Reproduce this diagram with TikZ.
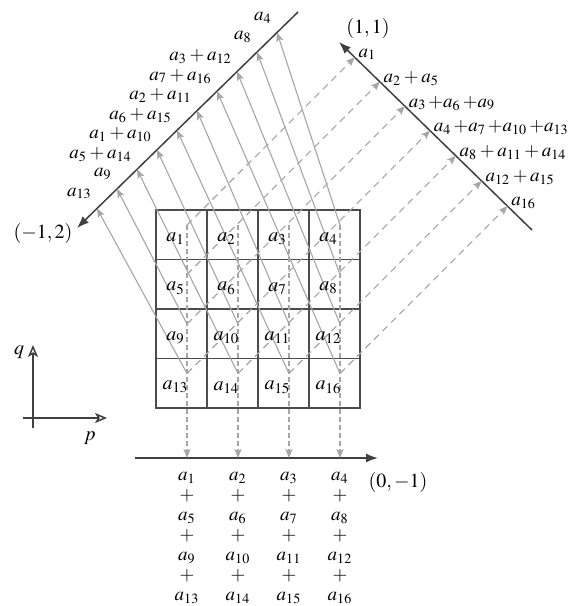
\documentclass[tikz,border=0pt]{standalone}
\usepackage{mathptmx}
\usetikzlibrary{positioning,calc,arrows.meta}
\tikzset{
  cell/.style={draw=black!70, line width=0.9pt, minimum width=25.5pt, minimum height=24.75pt, inner sep=0pt},
  celltext/.style={font=\fontsize{10}{12}\selectfont, inner sep=0pt},
  axisline/.style={draw=black!75, line width=0.75pt, -{Latex[length=6pt,width=4.5pt]}},
  refaxis/.style={draw=black!75, line width=0.75pt, -{Stealth[open,length=6pt,width=5pt,inset=1.5pt]}},
  projline/.style={draw=black!35, line width=0.55pt, -{Stealth[length=4.5pt,width=3.6pt,inset=1pt]}},
  projdash/.style={projline, dash pattern=on 3.5pt off 2.5pt},
  vdash/.style={projline, dash pattern=on 2.5pt off 1.5pt},
  binlabel/.style={font=\fontsize{9.5}{11}\selectfont, inner sep=1pt},
  sumcol/.style={font=\fontsize{9.5}{10}\selectfont, align=center, inner sep=1pt},
  axislabel/.style={font=\fontsize{10}{12}\selectfont, inner sep=1pt}
}

\begin{document}
\begin{tikzpicture}[x=0.5pt,y=-0.5pt]
  \useasboundingbox (0,0) rectangle (574,606);

  \foreach \l in {0,...,3}
    \foreach \k in {0,...,3} {
      \pgfmathtruncatemacro\n{4*\l+\k+1}
      \node[cell] (c\n) at ({181.5+51*\k},{234.75+49.5*\l}) {};
      \coordinate (s\n) at ($(c\n.center)+(5.5,-9.75)$);
      \coordinate (e\n) at ($(s\n)+(10,-10)$);
    }

  \coordinate (la) at (77,228);
  \coordinate (lb) at (298,12);
  \coordinate (ra) at (339,42);
  \coordinate (rb) at (532,230);
  \coordinate (ba) at (135,458);
  \coordinate (bb) at (378,458);
  \draw[axisline] (lb) -- (la);
  \draw[axisline] (rb) -- (ra);
  \draw[axisline] (ba) -- (bb);

  \foreach \s/\lab [count=\i] in {13/{a_{13}}, 9/{a_9}, 14/{a_5+a_{14}}, 10/{a_1+a_{10}}, 15/{a_6+a_{15}},
      11/{a_2+a_{11}}, 16/{a_7+a_{16}}, 12/{a_3+a_{12}}, 8/{a_8}, 4/{a_4}} {
    \coordinate (u\i) at ($(la)!{0.0905*\i}!(lb)$);
    \draw[projline] (s\s) -- (u\i);
    \node[binlabel, anchor=east, xshift=-1.5pt, yshift=7.5pt] (ul\i) at (u\i) {$\lab$};
  }

  \foreach \s/\lab [count=\i] in {1/{a_1}, 5/{a_2+a_5}, 9/{a_3\,{+}a_6\,{+}a_9}, 13/{a_4\,{+}a_7\,{+}a_{10}\,{+}a_{13}},
      14/{a_8+a_{11}+a_{14}}, 15/{a_{12}+a_{15}}, 16/{a_{16}}} {
    \coordinate (v\i) at (intersection cs: first line={(ra)--(rb)}, second line={(s\s)--(e\s)});
    \draw[projdash] (s\s) -- (v\i);
    \node[binlabel, anchor=west, xshift=0.75pt, yshift=1.5pt] (vl\i) at (v\i) {$\lab$};
  }

  \foreach \k in {1,...,4} {
    \pgfmathtruncatemacro\rowb{\k+4}
    \pgfmathtruncatemacro\rowc{\k+8}
    \pgfmathtruncatemacro\rowd{\k+12}
    \coordinate (w\k) at (s\k |- ba);
    \draw[vdash] (s\k) -- (w\k);
    \node[sumcol, below=6pt of w\k] (sum\k) {$a_{\k}$\\$+$\\$a_{\rowb}$\\$+$\\$a_{\rowc}$\\$+$\\$a_{\rowd}$};
  }

  \foreach \n in {1,...,16}
    \node[celltext] (t\n) at ($(c\n.center)+(-6,4)$) {$a_{\n}$};

  \node[axislabel] (lab12) at ($(la)+(-34,5)$) {$(-1,2)$};
  \node[axislabel] (lab11) at ($(ra)+(29,-14)$) {$(1,1)$};
  \node[axislabel] (lab01) at ($(bb)+(20,24)$) {$(0,-1)$};

  \coordinate (qa) at (33,428);
  \coordinate (qb) at (33,345);
  \coordinate (pa) at (23,418);
  \coordinate (pb) at (107,418);
  \draw[refaxis] (qa) -- (qb);
  \draw[refaxis] (pa) -- (pb);
  \node[axislabel] (plab) at (90,438) {$p$};
  \node[axislabel] (qlab) at (19,352) {$q$};
\end{tikzpicture}
\end{document}
